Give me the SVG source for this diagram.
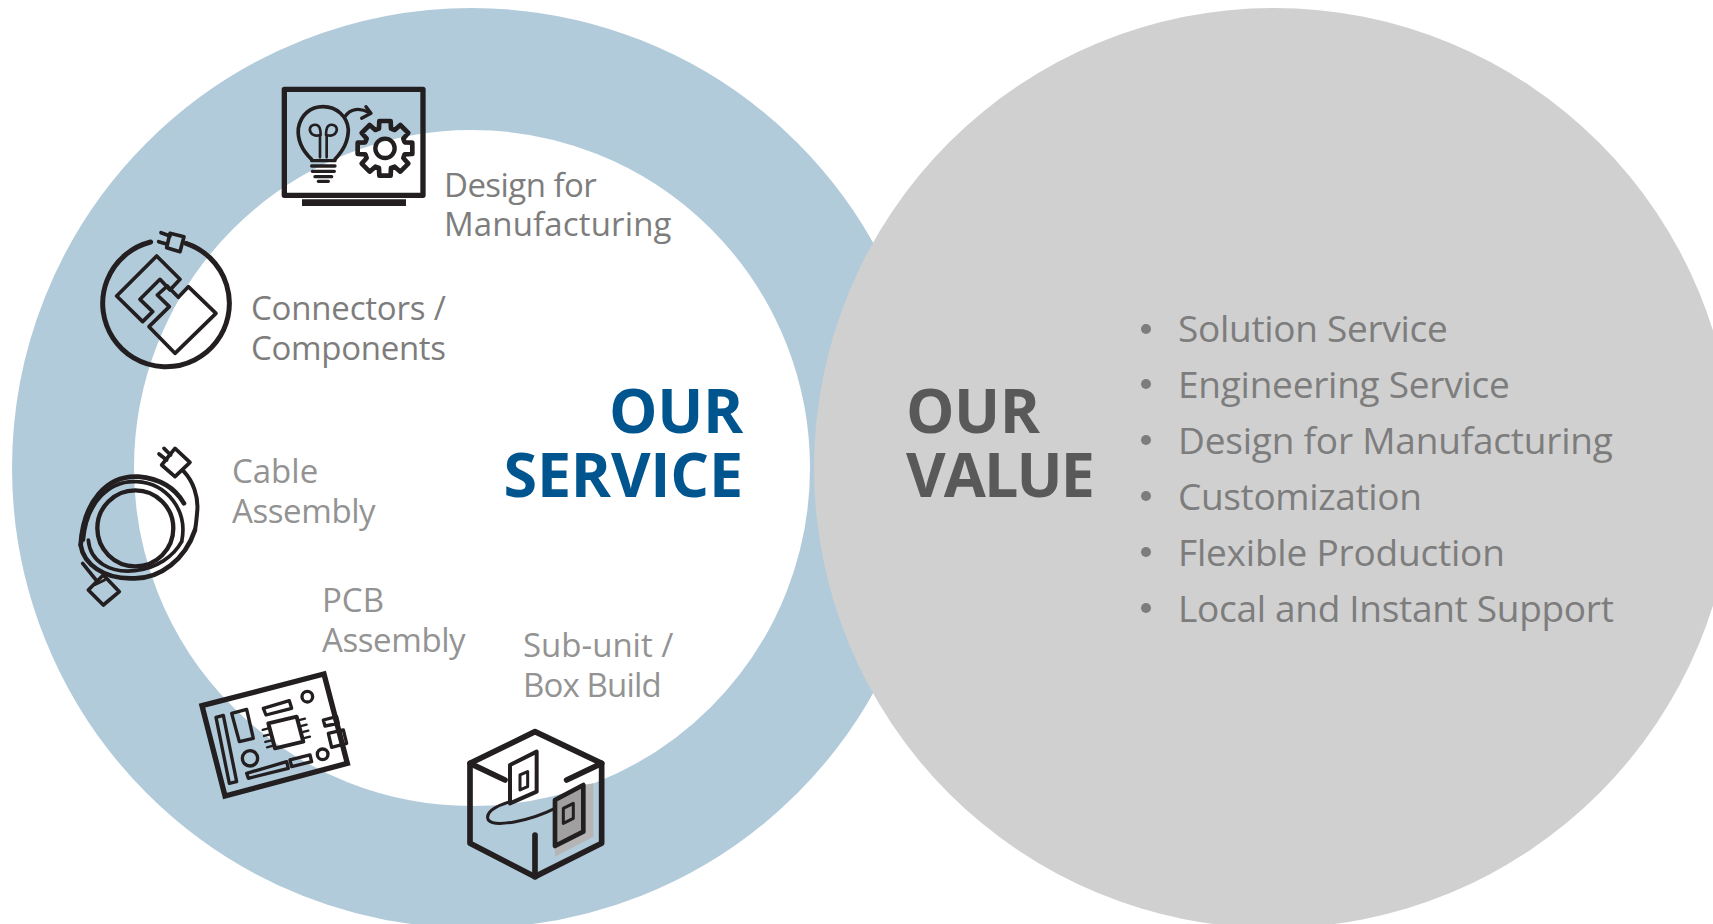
<svg xmlns="http://www.w3.org/2000/svg" width="1713" height="924" viewBox="0 0 1713 924">
<style>
text{font-family:"Open Sans","Noto Sans",sans-serif}
.t{font-size:33px;fill:#7d7d7d}
.l{font-size:33px;fill:#939393}
.v{font-size:37px;fill:#7d7d7d}
.h{font-size:61px;font-weight:700}
.i{fill:none;stroke:#231f20;stroke-linejoin:round;stroke-linecap:round}
</style>
<rect width="1713" height="924" fill="#fff"/>
<g id="service-ring"><circle cx="472" cy="468" r="399" fill="#fff" stroke="#b2cbdb" stroke-width="122"/></g>
<g id="value-circle"><circle cx="1274" cy="468" r="460" fill="#d0d0d0"/></g>
<g id="service-title" class="h" fill="#00558f" text-anchor="end"><text x="743" y="433" letter-spacing="-.3">OUR</text><text x="743" y="497" letter-spacing="-.2">SERVICE</text></g>
<g id="value-title" class="h" fill="#595959"><text x="906" y="433" letter-spacing="-.5">OUR</text><text x="906" y="497" letter-spacing="-1.9">VALUE</text></g>
<g id="value-list" class="v">
<circle cx="1146" cy="329" r="5" fill="#7d7d7d"/><text x="1178" y="342" letter-spacing="-.3">Solution Service</text>
<circle cx="1146" cy="384" r="5" fill="#7d7d7d"/><text x="1178" y="398" letter-spacing="-.25">Engineering Service</text>
<circle cx="1146" cy="440" r="5" fill="#7d7d7d"/><text x="1178" y="454" letter-spacing="-.2">Design for Manufacturing</text>
<circle cx="1146" cy="496" r="5" fill="#7d7d7d"/><text x="1178" y="510" letter-spacing="-.35">Customization</text>
<circle cx="1146" cy="552" r="5" fill="#7d7d7d"/><text x="1178" y="566" letter-spacing="-.2">Flexible Production</text>
<circle cx="1146" cy="608" r="5" fill="#7d7d7d"/><text x="1178" y="622" letter-spacing="-.3">Local and Instant Support</text>
</g>
<g id="design-for-manufacturing">
<g class="i" transform="translate(260,70) scale(.3333)">
<rect x="73" y="58" width="416" height="318" stroke-width="16"/>
<path d="M126 398H438" stroke-width="20" stroke-linecap="butt"/>
<path d="M155 268C125 240 112 210 115 175C122 135 150 110 190 110C230 110 262 140 265 178C265 215 250 240 225 268" stroke-width="11"/>
<path d="M155 272H225M155 288H225M157 304H223M165 320H215M175 334H205" stroke-width="10"/>
<path d="M180 262V195C150 205 140 170 160 165C180 160 182 180 182 195M200 262V195C230 205 240 170 220 165C200 160 198 180 198 195" stroke-width="8"/>
<path d="M255 140C270 115 300 112 328 128" stroke-width="10"/>
<path d="M318 110L333 130L305 145" stroke-width="10"/>
<polygon transform="translate(375,235)" stroke-width="14" points="82,17 59,18 55,29 70,46 46,70 29,55 18,59 17,82 -17,82 -18,59 -29,55 -46,70 -70,46 -55,29 -59,18 -82,17 -82,-17 -59,-18 -55,-29 -70,-46 -46,-70 -29,-55 -18,-59 -17,-82 17,-82 18,-59 29,-55 46,-70 70,-46 55,-29 59,-18 82,-17"/>
<circle cx="375" cy="235" r="29" stroke-width="13"/>
</g>
<text class="t" x="444" y="197" letter-spacing="-.55">Design for</text><text class="t" x="444" y="236" letter-spacing=".15">Manufacturing</text>
</g>
<g id="connectors-components">
<g class="i" transform="translate(80,210) scale(.3333)">
<path d="M212 96A190 190 0 1 0 318 100" stroke-width="15"/>
<polygon points="270,70 312,80 300,125 260,113" stroke-width="11"/>
<path d="M243 68L270 78M236 95L262 103" stroke-width="11"/>
<polygon points="230,138 300,208 270,240 240,208 180,268 218,305 188,335 110,258" stroke-width="11"/>
<polygon points="325,230 408,310 285,430 207,350 268,290 232,255 262,228 295,262" stroke-width="11"/>
</g>
<text class="t" x="251" y="320" letter-spacing="-.2">Connectors /</text><text class="t" x="251" y="360" letter-spacing="-.3">Components</text>
</g>
<g id="cable-assembly">
<g class="i" transform="translate(60,430) scale(.3333)">
<ellipse cx="226" cy="295" rx="114" ry="114" stroke-width="13"/>
<path d="M70 330C80 215 150 150 230 155C320 160 385 240 365 335" stroke-width="11"/>
<path d="M85 330C90 395 150 430 225 422C290 415 340 380 365 335" stroke-width="11"/>
<path d="M62 345C70 215 140 135 235 140C290 145 340 165 372 220" stroke-width="14"/>
<path d="M62 345C70 400 130 450 225 445C300 445 375 390 405 300" stroke-width="14"/>
<polygon points="345,55 390,97 345,140 305,105" stroke-width="11"/>
<path d="M297 72L320 90M312 55L332 75" stroke-width="11"/>
<path d="M372 125C400 155 415 200 412 240C410 265 408 285 405 300" stroke-width="12"/>
<path d="M68 400L112 455" stroke-width="11"/>
<polygon points="130,435 178,485 130,525 85,480" stroke-width="11"/>
<path d="M106 464L134 450" stroke-width="8"/>
</g>
<text class="l" x="232" y="483">Cable</text><text class="l" x="232" y="523" letter-spacing="-.4">Assembly</text>
</g>
<g id="pcb-assembly">
<g class="i" transform="translate(190,660) scale(.3333)">
<polygon points="36,137 402,42 472,310 105,408" stroke-width="16" stroke-linejoin="miter"/>
<g stroke-width="10">
<polygon points="78,172 100,166 140,365 118,370"/>
<polygon points="125,160 170,148 190,235 148,245"/>
<polygon points="235,190 320,170 340,245 255,265" stroke-width="12"/>
<path d="M218 210L235 205M222 228L240 223M226 246L245 241M231 262L250 257M330 180L345 176M335 198L350 194M340 216L355 212M345 234L360 230" stroke-width="7"/>
<polygon points="220,145 298,122 305,145 228,165"/>
<circle cx="352" cy="110" r="16"/>
<circle cx="180" cy="295" r="23"/>
<circle cx="398" cy="283" r="16"/>
<polygon points="170,340 290,305 295,325 175,355"/>
<polygon points="300,300 360,285 365,305 305,320"/>
<polygon points="400,180 440,170 445,190 405,198"/>
<polygon points="415,220 460,210 470,250 425,262"/>
</g>
</g>
<text class="l" x="322" y="612">PCB</text><text class="l" x="322" y="652" letter-spacing="-.4">Assembly</text>
</g>
<g id="sub-unit-box-build">
<g class="i" transform="translate(455,720) scale(.3333)">
<polygon points="300,378 300,410 415,350 415,190 385,195" fill="#b5b5b5" stroke="none"/>
<polygon points="300,240 385,195 385,335 300,378" fill="#a0a0a0" stroke-width="14"/>
<polygon points="165,135 245,95 245,215 165,250" stroke-width="12"/>
<polygon points="195,165 218,155 218,200 195,210" stroke-width="9"/>
<polygon points="325,265 355,250 355,295 325,310" stroke-width="9"/>
<path d="M165 245C115 260 90 280 100 300C120 325 230 300 300 265" stroke-width="9"/>
<polygon points="240,35 440,130 440,370 240,470 45,370 45,130" stroke-width="17"/>
<path d="M45 130L150 180M440 130L335 180M240 345V470" stroke-width="17"/>
</g>
<text class="l" x="523" y="657">Sub-unit /</text><text class="l" x="523" y="697" letter-spacing="-.85">Box Build</text>
</g>
</svg>
